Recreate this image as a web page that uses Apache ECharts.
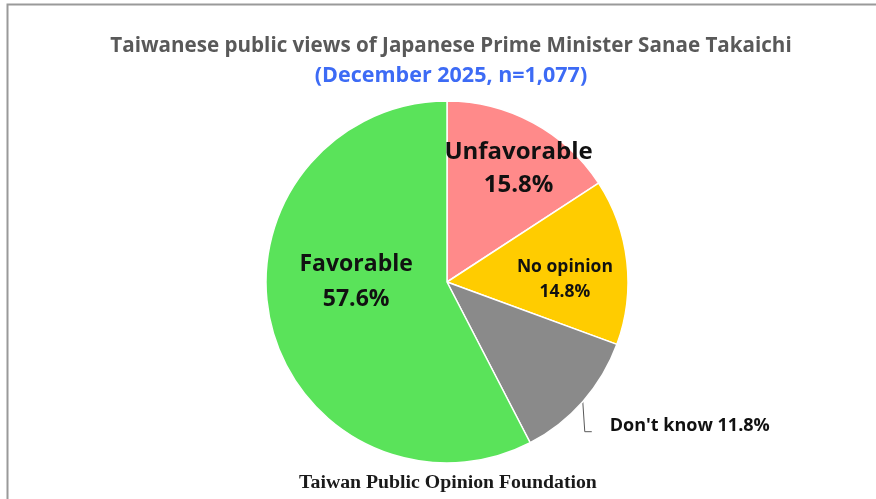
<!DOCTYPE html>
<html>
<head>
<meta charset="utf-8">
<script src="https://cdn.jsdelivr.net/npm/echarts@6/dist/echarts.min.js"></script>
<style>
  html, body { margin: 0; padding: 0; background: #ffffff; }
  #chart { width: 876px; height: 499px; }
</style>
</head>
<body>
<div id="chart"></div>
<script>
// Survey responses, clockwise from 12 o'clock
const categories = ['Unfavorable', 'No opinion', "Don't know", 'Favorable'];
const shares = [15.8, 14.8, 11.8, 57.6];
const sliceColors = ['#FF8A8A', '#FFCC00', '#8A8A8A', '#5AE35A'];

const titleText = 'Taiwanese public views of Japanese Prime Minister Sanae Takaichi';
const subtitleText = '(December 2025, n=1,077)';
const sourceText = 'Taiwan Public Opinion Foundation';

const FONT = '"Open Sans", Lato, sans-serif';

// Per-slice label styling: which slices carry their text inside the pie
const labelStyles = [
  { position: 'inside', fontSize: 24, lineHeight: 33, two: true },
  { position: 'inside', fontSize: 17.5, lineHeight: 25, two: true },
  { position: 'outside', fontSize: 18, lineHeight: 22, two: false },
  { position: 'inside', fontSize: 23, lineHeight: 35, two: true }
];
// nudges from the default inside label anchor
const labelNudges = [[27, -31], [25, 8], [0, 0], [0, -22]];

const chart = echarts.init(document.getElementById('chart'), null, { renderer: 'canvas' });

const data = categories.map((name, i) => {
  const s = labelStyles[i];
  return {
    name,
    value: shares[i],
    itemStyle: { color: sliceColors[i] },
    label: {
      show: true,
      position: s.position,
      fontSize: s.fontSize,
      lineHeight: s.lineHeight,
      formatter: s.two ? '{b}\n{c}%' : '{b} {c}%'
    },
    labelLine: {
      show: s.position === 'outside',
      length: 30,
      length2: 10,
      lineStyle: { color: '#595959', width: 1 }
    }
  };
});

chart.setOption({
  animation: false,
  backgroundColor: '#ffffff',
  title: [
    {
      text: titleText,
      left: 446,
      textAlign: 'center',
      top: 31,
      textStyle: { fontFamily: FONT, fontSize: 20.6, fontWeight: 'bold', color: '#595959' }
    },
    {
      text: subtitleText,
      left: 446,
      textAlign: 'center',
      top: 60,
      textStyle: { fontFamily: FONT, fontSize: 21.5, fontWeight: 'bold', color: '#3D6BF5' }
    },
    {
      text: sourceText,
      left: 443,
      textAlign: 'center',
      top: 468,
      textStyle: { fontFamily: '"Liberation Serif", "DejaVu Serif", serif', fontSize: 19.8, fontWeight: 'bold', color: '#1a1a1a' }
    }
  ],
  graphic: [
    {
      type: 'rect',
      silent: true,
      shape: { x: 7.5, y: 4.5, width: 900, height: 600 },
      style: { fill: null, stroke: '#9a9a9a', lineWidth: 2 }
    }
  ],
  series: [
    {
      type: 'pie',
      center: [447, 282],
      radius: [0, 181],
      startAngle: 90,
      clockwise: true,
      data,
      itemStyle: { borderColor: '#ffffff', borderWidth: 1.5 },
      label: {
        fontFamily: FONT,
        fontWeight: 'bold',
        color: '#111111'
      },
      labelLayout: function (p) {
        const i = p.dataIndex;
        if (labelStyles[i].position === 'outside' && p.labelLinePoints) {
          // elbow leader: drop nearly straight down from the rim, then a short tick right
          const p0 = p.labelLinePoints[0];
          const bend = [p0[0] + 2, p0[1] + 30];
          const end = [p0[0] + 9, p0[1] + 30];
          const r = p.labelRect;
          return {
            dx: (p0[0] + 27) - r.x,
            dy: (p0[1] + 24) - (r.y + r.height / 2),
            labelLinePoints: [p0, bend, end]
          };
        }
        return { dx: labelNudges[i][0], dy: labelNudges[i][1] };
      }
    }
  ]
});
</script>
</body>
</html>
